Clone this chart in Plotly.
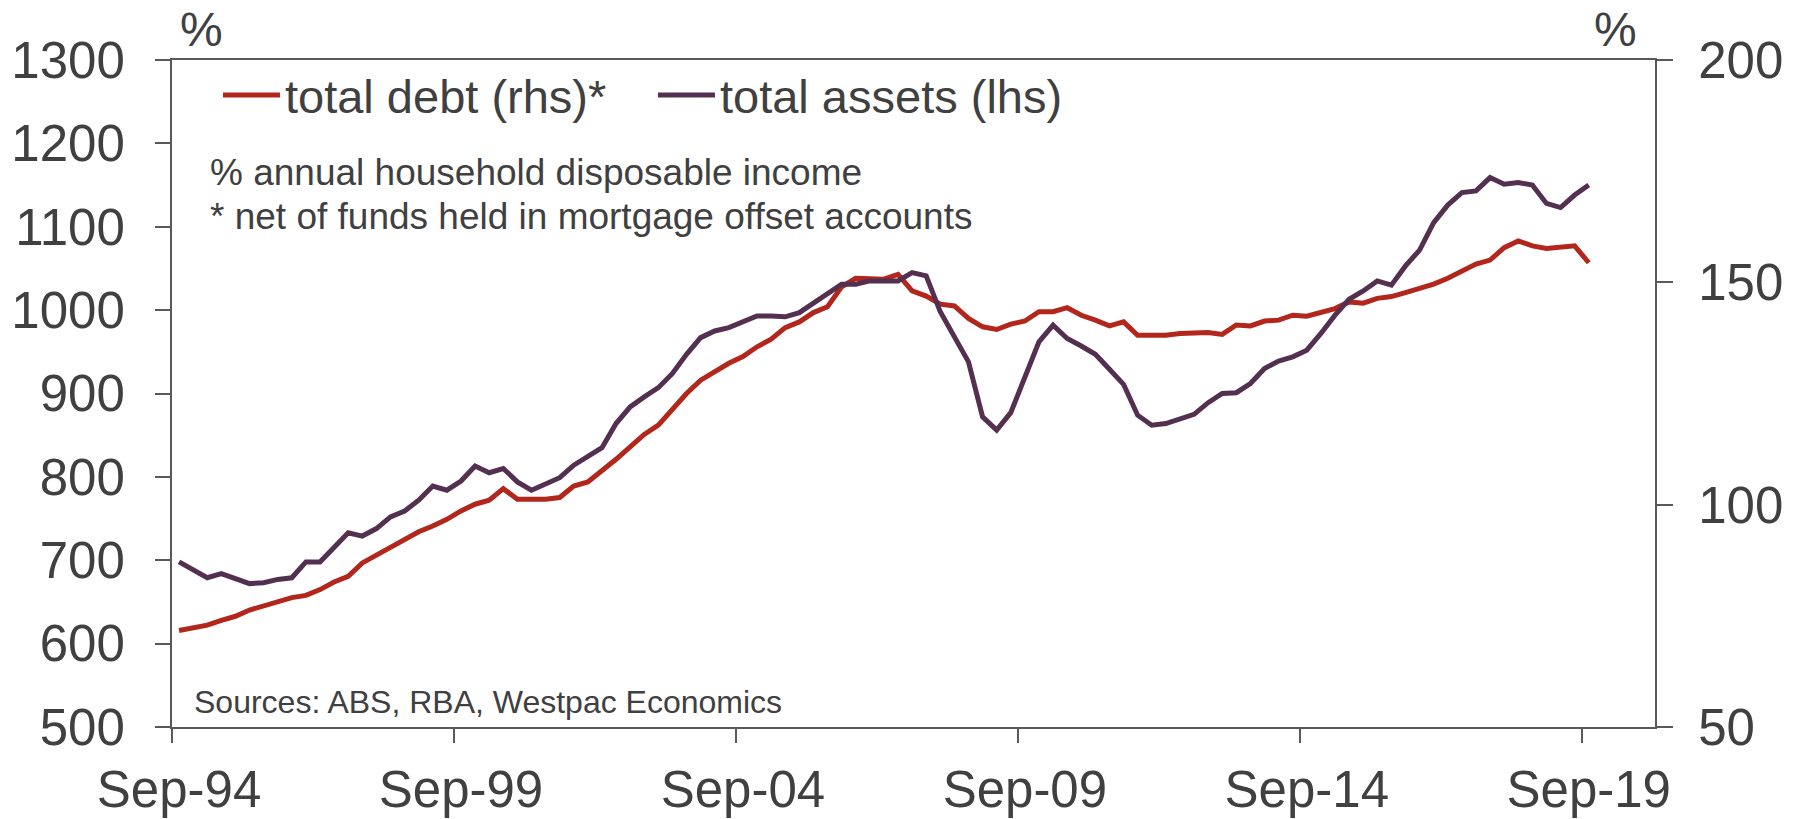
import pandas as pd
import plotly.graph_objects as go

# quarterly categories, Sep-94 .. Sep-19
quarters = list(pd.date_range("1994-09-01", periods=101, freq="3MS").strftime("%b-%y"))

# total debt, % of annual household disposable income (rhs)
total_debt = [
    71.7, 72.2, 72.9, 74.0, 74.9, 76.3, 77.2, 78.3, 79.1, 79.6,
    80.9, 82.6, 83.9, 86.9, 88.6, 90.5, 92.0, 93.9, 95.2, 96.7,
    98.6, 100.1, 101.0, 103.6, 101.2, 101.2, 101.2, 101.6, 104.2, 105.1,
    107.6, 110.2, 113.0, 115.8, 117.9, 121.6, 125.0, 128.0, 129.9, 131.8,
    133.3, 135.5, 137.2, 139.8, 141.1, 143.2, 144.5, 149.0, 150.9, 150.9,
    150.7, 151.8, 148.1, 146.9, 145.1, 144.7, 141.9, 140.0, 139.4, 140.6,
    141.3, 143.4, 143.4, 144.3, 142.6, 141.5, 140.2, 141.1, 138.1, 138.1,
    138.1, 138.5, 138.7, 138.7, 138.3, 140.4, 140.2, 141.3, 141.5, 142.6,
    142.4, 143.2, 144.1, 145.6, 145.3, 146.4, 146.8, 147.7, 148.6, 149.6,
    150.9, 152.6, 154.1, 155.0, 157.8, 159.3, 158.2, 157.6, 158.0, 158.2,
    154.4,
]

# total assets, % of annual household disposable income (lhs)
total_assets = [
    698, 689, 679, 684, 678, 672, 673, 677, 679, 698,
    698, 716, 733, 729, 738, 752, 759, 772, 789, 784,
    795, 813, 805, 810, 794, 784, 791, 799, 814, 824,
    835, 864, 884, 896, 907, 924, 947, 967, 975, 979,
    986, 993, 993, 992, 997, 1008, 1020, 1031, 1031, 1035,
    1035, 1035, 1045, 1041, 998, 968, 938, 872, 856, 877,
    918, 962, 982, 966, 957, 947, 929, 911, 874, 862,
    864, 870, 875, 889, 900, 901, 912, 930, 939, 944,
    952, 972, 994, 1013, 1023, 1035, 1030, 1053, 1072, 1105,
    1126, 1141, 1143, 1159, 1151, 1153, 1150, 1128, 1123, 1138,
    1150,
]

RED = "#B3261B"
PURPLE = "#543050"
TEXT = "#404040"
AXIS = "#595959"
FONT = "Liberation Sans, Arial, sans-serif"

fig = go.Figure()

# red on the right-hand scale, drawn first so the purple sits on top
fig.add_trace(go.Scatter(
    x=quarters, y=total_debt, name="total debt (rhs)*",
    mode="lines", line=dict(color=RED, width=5), yaxis="y"
))
fig.add_trace(go.Scatter(
    x=quarters, y=total_assets, name="total assets (lhs)",
    mode="lines", line=dict(color=PURPLE, width=5), yaxis="y2"
))

axis_common = dict(
    showgrid=False, zeroline=False, showline=True, automargin=False,
    linecolor=AXIS, linewidth=2, ticks="outside",
    tickcolor=AXIS, tickwidth=2,
    tickfont=dict(family=FONT, size=51, color=TEXT),
)

fig.update_layout(
    width=1810, height=819,
    margin=dict(l=172, r=155, t=60, b=92),
    paper_bgcolor="white", plot_bgcolor="white",
    font=dict(family=FONT, color=TEXT),
    xaxis=dict(
        type="category", tickson="boundaries",
        tickmode="linear", tick0=0, dtick=20,
        range=[-0.5, 104.7], mirror=True, ticklen=14,
        tickangle=0, ticklabelstandoff=17,
        **axis_common
    ),
    yaxis=dict(
        side="right", range=[50, 200], dtick=50, ticklen=16,
        ticklabelstandoff=15,
        **axis_common
    ),
    yaxis2=dict(
        side="left", overlaying="y", range=[500, 1300], dtick=100, ticklen=15,
        ticklabelstandoff=20,
        **axis_common
    ),
    legend=dict(
        orientation="h", x=0.031, y=0.947, xanchor="left", yanchor="middle",
        font=dict(family=FONT, size=47, color=TEXT),
        bgcolor="rgba(0,0,0,0)", itemwidth=57, entrywidth=363,
    ),
    showlegend=True,
)

notes = [
    ("% annual household disposable income", 0.024, 0.8306, 37),
    ("* net of funds held in mortgage offset accounts", 0.024, 0.766, 37),
    ("Sources: ABS, RBA, Westpac Economics", 0.0135, 0.038, 32),
]
for text, x, y, size in notes:
    fig.add_annotation(
        text=text, x=x, y=y, xref="paper", yref="paper",
        xanchor="left", yanchor="middle", showarrow=False,
        font=dict(family=FONT, size=size, color=TEXT),
    )

# unit labels above both value axes
for x in (0.0202, 0.9737):
    fig.add_annotation(
        text="%", x=x, y=1.045, xref="paper", yref="paper",
        xanchor="center", yanchor="middle", showarrow=False,
        font=dict(family=FONT, size=48, color=TEXT),
    )

# drop the default page margin so the figure fills the window exactly
fig.write_html(
    "out.html",
    config={"displayModeBar": False},
    post_script="document.body.style.margin = '0';",
)
